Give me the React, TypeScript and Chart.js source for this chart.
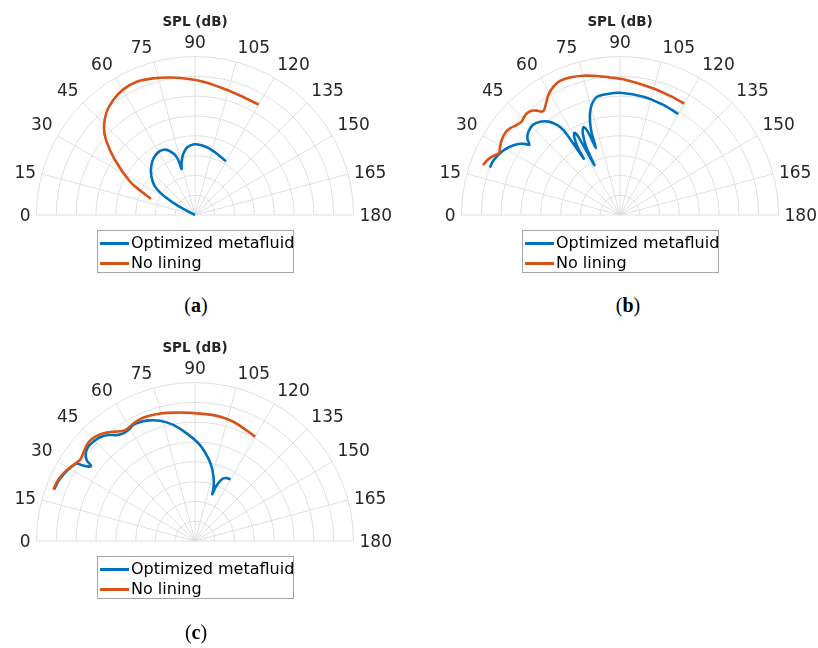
import React, { useEffect, useRef } from "react";
import { Chart, registerables } from "chart.js";

Chart.register(...registerables);

// ---------- axes / labels ----------
const R_MIN = 40;
const R_MAX = 120;
const R_STEP = 10;
const THETA_TICKS = [0, 15, 30, 45, 60, 75, 90, 105, 120, 135, 150, 165, 180];
const RADIAL_TITLE = "SPL (dB)";
const SERIES_LABELS = ["Optimized metafluid", "No lining"];
const SERIES_COLORS = ["#0072BD", "#D95319"];

// ---------- panel (a) ----------
const A_META_THETA = [20, 24, 28, 31, 35, 42, 48.5, 54.6, 60.4, 64.6, 68, 71, 72.5, 73.3, 73.8, 74.8, 75.8, 78, 80, 83.5, 89.2, 94.6, 101.9, 110.1, 120];
const A_META_SPL = [38, 40, 49.2, 57.3, 64.3, 69.7, 73.3, 75.7, 76.8, 76.5, 75.0, 72.6, 70.5, 68.0, 64.2, 66.0, 67.4, 70.3, 72.1, 74.4, 75.7, 75.4, 74.4, 72.8, 71.3];
const A_NOLIN_THETA = [20, 24, 27.1, 34.5, 40.1, 44.1, 49.5, 54.6, 60.3, 66.4, 73, 79.7, 86.5, 93.6, 101.1, 109, 120];
const A_NOLIN_SPL = [63.7, 70.3, 76.8, 89.0, 98.7, 104.0, 108.6, 111.2, 113.0, 113.4, 112.1, 110.5, 108.9, 107.4, 105.7, 104.6, 104.3];

// ---------- panel (b) ----------
const B_META_THETA = [20, 22.7, 24.9, 27.2, 29.7, 32.5, 34.9, 36.8, 37.8, 39.6, 42.3, 45.9, 49.4, 52.5, 54.5, 55.8, 56.6, 57.2, 58, 59.5, 61, 62, 62.8, 63.5, 65.5, 67.5, 69, 70.2, 71, 72.5, 74, 76, 79, 84, 90, 101.2, 111.5, 120];
const B_META_SPL = [109.9, 109.7, 109.0, 108.1, 106.8, 104.8, 102.6, 99.9, 97.9, 100.7, 102.5, 103.3, 102.0, 99.4, 96.5, 93.5, 89.0, 73.8, 80.4, 85.4, 87.4, 84.4, 68.3, 77.9, 85.4, 88.0, 84.4, 75.8, 84.4, 90.5, 94.5, 98.0, 100.8, 101.4, 101.7, 100.9, 99.7, 98.8];
const B_NOLIN_THETA = [20, 22.9, 25, 27.1, 29.7, 32.4, 35.4, 38.2, 41.1, 43.5, 45, 47.4, 49.7, 51.4, 52.8, 54.1, 56.5, 59.2, 62.6, 65.9, 70, 75.3, 80.5, 85.8, 91.4, 103.2, 112.8, 120];
const B_NOLIN_SPL = [113.6, 112.2, 110.5, 108.6, 109.7, 110.7, 111.2, 110.7, 109.1, 108.4, 109.0, 109.6, 109.0, 107.4, 105.5, 105.4, 107.6, 110.6, 113.0, 114.1, 113.9, 112.7, 111.1, 109.6, 108.5, 106.2, 105.2, 104.9];

// ---------- panel (c) ----------
const C_META_THETA = [20, 24, 27.7, 31, 33.2, 33.8, 34.9, 35.8, 36.8, 38.7, 41.5, 44.3, 47.5, 50.7, 53.5, 56.3, 59, 62, 65, 68.1, 73.8, 79.4, 85.6, 93, 99.2, 103, 106, 108.3, 109.6, 110.3, 111, 112.5, 114.3, 117, 120];
const C_META_SPL = [115.7, 115.2, 114.1, 112.7, 111.4, 108.9, 105.6, 104.7, 108.3, 110.7, 111.9, 111.7, 111.0, 109.1, 106.5, 105.3, 105.4, 106.3, 106.1, 105.5, 103.2, 99.6, 94.5, 88.5, 82.2, 77.9, 73.8, 70.3, 67.3, 65.2, 69.3, 72.6, 74.7, 75.6, 75.9];
const C_NOLIN_THETA = [20, 24.1, 28.1, 32, 35.2, 38.1, 41.5, 44.5, 47.6, 50.8, 53.8, 56.6, 58.5, 61.4, 64.9, 69.5, 75.4, 81.1, 88, 98.3, 107.8, 120];
const C_NOLIN_SPL = [116.1, 115.6, 114.3, 112.4, 111.0, 111.7, 113.0, 113.2, 112.4, 110.6, 108.4, 106.5, 106.1, 106.7, 107.4, 107.3, 106.6, 105.6, 104.7, 104.2, 103.2, 100.8];

// ---------- geometry ----------
const R_PX = 158.5;
const CW = 400;
const CH = 240;
const CX = 195;
const CY = 215;
const K = R_PX / (R_MAX - R_MIN);

function toXY(theta: number[], spl: number[]) {
  return theta.map((t, i) => {
    const r = Math.max(0, spl[i] - R_MIN);
    const a = (t * Math.PI) / 180;
    return { x: -r * Math.cos(a), y: r * Math.sin(a) };
  });
}

const GRID_COLOR = "#dfdfdf";
const TEXT_COLOR = "#262626";

const polarGrid = {
  id: "polarGrid",
  beforeDatasetsDraw(chart: any) {
    const { ctx, scales } = chart;
    const cx = scales.x.getPixelForValue(0);
    const cy = scales.y.getPixelForValue(0);
    const k = scales.x.getPixelForValue(1) - cx;
    const R = (R_MAX - R_MIN) * k;
    ctx.save();
    ctx.strokeStyle = GRID_COLOR;
    ctx.lineWidth = 1;
    for (let v = R_MIN + R_STEP; v <= R_MAX + 1e-9; v += R_STEP) {
      const rr = (v - R_MIN) * k;
      ctx.beginPath();
      ctx.arc(cx, cy, rr, Math.PI, 2 * Math.PI);
      ctx.stroke();
    }
    for (const t of THETA_TICKS) {
      const a = (t * Math.PI) / 180;
      ctx.beginPath();
      ctx.moveTo(cx, cy);
      ctx.lineTo(cx - R * Math.cos(a), cy - R * Math.sin(a));
      ctx.stroke();
    }
    ctx.restore();
  },
  afterDatasetsDraw(chart: any) {
    const { ctx, scales } = chart;
    const cx = scales.x.getPixelForValue(0);
    const cy = scales.y.getPixelForValue(0);
    const k = scales.x.getPixelForValue(1) - cx;
    const R = (R_MAX - R_MIN) * k;
    ctx.save();
    ctx.fillStyle = TEXT_COLOR;
    ctx.font = '17px "DejaVu Sans"';
    ctx.textBaseline = "alphabetic";
    for (const t of THETA_TICKS) {
      const a = (t * Math.PI) / 180;
      const ax = cx - (R + 6) * Math.cos(a);
      const ay = cy - (R + 6) * Math.sin(a);
      ctx.textAlign = t < 90 ? "right" : t > 90 ? "left" : "center";
      const middle = t <= 15 || t >= 165;
      const by = middle ? ay + 6 : ay - 3;
      ctx.fillText(String(t), ax, by);
    }
    ctx.font = 'bold 13.5px "DejaVu Sans"';
    ctx.textAlign = "center";
    ctx.fillText(RADIAL_TITLE, cx, cy - 189.5);
    ctx.restore();
  },
};

type PanelProps = {
  left: number;
  top: number;
  metaTheta: number[];
  metaSpl: number[];
  nolinTheta: number[];
  nolinSpl: number[];
};

function PolarPanel(p: PanelProps) {
  const ref = useRef<HTMLCanvasElement | null>(null);
  useEffect(() => {
    if (!ref.current) return;
    const chart = new Chart(ref.current, {
      type: "scatter",
      data: {
        datasets: [
          {
            label: SERIES_LABELS[0],
            data: toXY(p.metaTheta, p.metaSpl),
            borderColor: SERIES_COLORS[0],
            backgroundColor: SERIES_COLORS[0],
            showLine: true,
            borderWidth: 2.6,
            pointRadius: 0,
            tension: 0.3,
            order: 2,
          },
          {
            label: SERIES_LABELS[1],
            data: toXY(p.nolinTheta, p.nolinSpl),
            borderColor: SERIES_COLORS[1],
            backgroundColor: SERIES_COLORS[1],
            showLine: true,
            borderWidth: 2.6,
            pointRadius: 0,
            tension: 0.3,
            order: 1,
          },
        ],
      },
      options: {
        animation: false,
        responsive: false,
        devicePixelRatio: 1,
        layout: { padding: 0 },
        plugins: { legend: { display: false }, tooltip: { enabled: false }, title: { display: false } },
        events: [],
        scales: {
          x: { type: "linear", display: false, min: -CX / K, max: (CW - CX) / K },
          y: { type: "linear", display: false, min: -(CH - CY) / K, max: CY / K },
        },
      },
      plugins: [polarGrid],
    } as any);
    return () => chart.destroy();
  }, []);
  return (
    <canvas
      ref={ref}
      width={CW}
      height={CH}
      style={{ position: "absolute", left: p.left, top: p.top, width: CW, height: CH }}
    />
  );
}

function Legend({ cx, cy }: { cx: number; cy: number }) {
  const rows = SERIES_LABELS.map((lab, i) => (
    <div key={lab} style={{ position: "absolute", left: 0, top: 2 + i * 20, height: 20, width: 195 }}>
      <div style={{ position: "absolute", left: 2, top: 9, width: 29, height: 2.6, background: SERIES_COLORS[i] }} />
      <div
        style={{
          position: "absolute",
          left: 33,
          top: 0,
          lineHeight: "20px",
          fontSize: 16,
          fontFamily: '"DejaVu Sans"',
          color: "#000",
          whiteSpace: "nowrap",
        }}
      >
        {lab}
      </div>
    </div>
  ));
  return (
    <div
      style={{
        position: "absolute",
        left: cx - 98,
        top: cy + 15,
        width: 197,
        height: 43,
        boxSizing: "border-box",
        border: "1px solid #a6a6a6",
        background: "#fff",
      }}
    >
      {rows}
    </div>
  );
}

function Caption({ x, y, letter }: { x: number; y: number; letter: string }) {
  return (
    <div
      style={{
        position: "absolute",
        left: x - 40,
        top: y - 12,
        width: 80,
        height: 24,
        lineHeight: "24px",
        textAlign: "center",
        fontFamily: '"Liberation Serif", serif',
        fontSize: 20,
        color: "#000",
      }}
    >
      (<b>{letter}</b>)
    </div>
  );
}

export default function App() {
  return (
    <div style={{ position: "absolute", left: 0, top: 0, width: 818, height: 648, background: "#fff", overflow: "hidden" }}>
      <PolarPanel left={195 - CX} top={215 - CY} metaTheta={A_META_THETA} metaSpl={A_META_SPL} nolinTheta={A_NOLIN_THETA} nolinSpl={A_NOLIN_SPL} />
      <PolarPanel left={620 - CX} top={215 - CY} metaTheta={B_META_THETA} metaSpl={B_META_SPL} nolinTheta={B_NOLIN_THETA} nolinSpl={B_NOLIN_SPL} />
      <PolarPanel left={195 - CX} top={541 - CY} metaTheta={C_META_THETA} metaSpl={C_META_SPL} nolinTheta={C_NOLIN_THETA} nolinSpl={C_NOLIN_SPL} />
      <Legend cx={195} cy={215} />
      <Legend cx={620} cy={215} />
      <Legend cx={195} cy={541} />
      <Caption x={196} y={305} letter="a" />
      <Caption x={628} y={305} letter="b" />
      <Caption x={196} y={632} letter="c" />
    </div>
  );
}
